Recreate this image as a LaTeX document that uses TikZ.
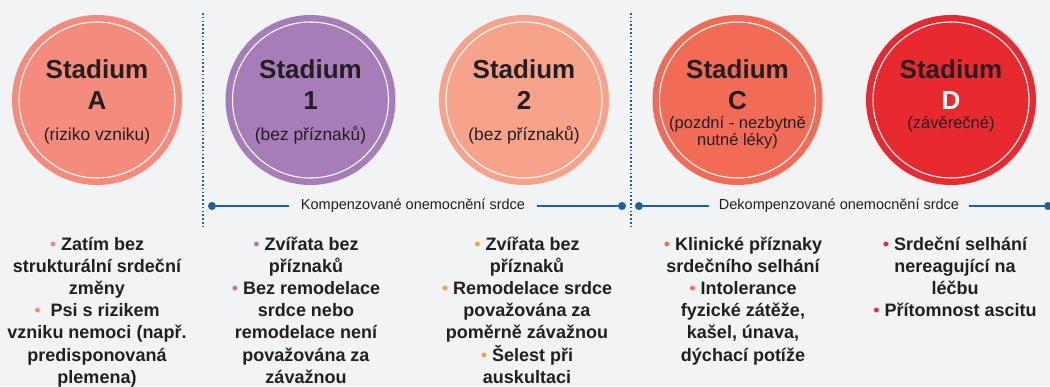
\documentclass[tikz,border=0pt]{standalone}
\usepackage{fontspec}
\setmainfont{Liberation Sans}
\usetikzlibrary{positioning}
\definecolor{bgGray}{HTML}{F2F3F5}
\colorlet{background}{bgGray}
\definecolor{ink}{HTML}{231F20}
\definecolor{penColor}{HTML}{1F5F9A}
\definecolor{fillA}{HTML}{F58B7D}
\definecolor{fill1}{HTML}{A67DB8}
\definecolor{fill2}{HTML}{F7A38C}
\definecolor{fillC}{HTML}{F26B57}
\definecolor{fillD}{HTML}{E8292F}
\definecolor{dot2}{HTML}{F7A046}
\newcommand\bul[1]{\textcolor{#1}{\textmd{\textbullet}}}
\tikzset{
  stage/.style={circle, minimum size=170pt, inner sep=0pt},
  ring/.style={white, line width=1.1pt},
  stagename/.style={anchor=base, inner sep=0pt, text=ink,
    font=\fontsize{26}{26}\selectfont\bfseries},
  stagenote/.style={anchor=base, inner sep=0pt, text=ink, align=center,
    font=\fontsize{16.5}{17}\selectfont},
  bignote/.style={stagenote, font=\fontsize{17.4}{18}\selectfont},
  items/.style={anchor=base, inner sep=0pt, text=ink, align=center,
    font=\fontsize{18}{22.2}\selectfont\bfseries},
  bigdot/.style={circle, fill=penColor, inner sep=0pt, minimum size=8pt},
  phase/.style={fill=background, text=ink, inner ysep=2pt,
    font=\fontsize{14.5}{15}\selectfont},
}

\begin{document}
\begin{tikzpicture}[x=1pt, y=-1pt]
    \fill[background] (0,0) rectangle (1050,386);
    \useasboundingbox (0,0) rectangle (1050,386);
      % stage circles
      \node[stage, fill=fillA] (stA) at (97,100) {};
      \node[stage, fill=fill1] (st1) at (310.5,100) {};
      \node[stage, fill=fill2] (st2) at (524,100) {};
      \node[stage, fill=fillC] (stC) at (737.5,100) {};
      \node[stage, fill=fillD] (stD) at (951,100) {};
      \draw[ring] (stA) circle (78pt);
      \draw[ring] (st1) circle (78pt);
      \draw[ring] (st2) circle (78pt);
      \draw[ring] (stC) circle (78pt);
      \draw[ring] (stD) circle (78pt);
      % stage titles (base = last line)
      \node[stagename] (nameA) at (97,78) {Stadium};
      \node[stagename] (letA) at (97,109) {A};
      \node[bignote] (noteA) at (97,140) {(riziko vzniku)};
      \node[stagename] (name1) at (310.5,78) {Stadium};
      \node[stagename] (let1) at (310.5,109) {1};
      \node[bignote] (note1) at (310.5,140) {(bez příznaků)};
      \node[stagename] (name2) at (524,78) {Stadium};
      \node[stagename] (let2) at (524,109) {2};
      \node[bignote] (note2) at (524,140) {(bez příznaků)};
      \node[stagename] (nameC) at (737.5,78) {Stadium};
      \node[stagename] (letC) at (737.5,109) {C};
      \node[stagenote] (noteC) at (737.5,145) {(pozdní - nezbytně\\nutné léky)};
      \node[stagename] (nameD) at (951,78) {Stadium};
      \node[stagename, text=white] (letD) at (951,109) {D};
      \node[stagenote] (noteD) at (951,128) {(závěrečné)};
      % dividers
      \coordinate (divAtop) at (203,13);
      \coordinate (divAbot) at (203,228);
      \coordinate (divBtop) at (631,13);
      \coordinate (divBbot) at (631,228);
      \draw[penColor, line width=1.6pt, dash pattern=on 1.6pt off 2.2pt] (divAtop) -- (divAbot);
      \draw[penColor, line width=1.6pt, dash pattern=on 1.6pt off 2.2pt] (divBtop) -- (divBbot);
      % phases
      \node[bigdot] (kompL) at (212,206) {};
      \node[bigdot] (kompR) at (622,206) {};
      \node[bigdot] (dekL) at (639,206) {};
      \node[bigdot] (dekR) at (1048,206) {};
      \draw[penColor, line width=1.8pt] (kompL) -- (kompR);
      \draw[penColor, line width=1.8pt] (dekL) -- (dekR);
      \node[phase, inner xsep=12pt] (komp) at (413,206) {Kompenzované onemocnění srdce};
      \node[phase, inner xsep=10pt] (dek) at (839,206) {Dekompenzované onemocnění srdce};
      % signs (y = baseline of last line)
      \node[items] (itemsA) at (97,383.2) {\bul{fillA} Zatím bez\\strukturální srdeční\\změny\\\bul{fillA}\ \ Psi s rizikem\\vzniku nemoci (např.\\predisponovaná\\plemena)};
      \node[items] (items1) at (306,383.2) {\bul{fill1} Zvířata bez\\příznaků\\\bul{fill1} Bez remodelace\\srdce nebo\\remodelace není\\považována za\\závažnou};
      \node[items] (items2) at (527,383.2) {\bul{dot2} Zvířata bez\\příznaků\\\bul{dot2} Remodelace srdce\\považována za\\poměrně závažnou\\\bul{dot2} Šelest při\\auskultaci};
      \node[items] (itemsC) at (743,361) {\bul{fillC} Klinické příznaky\\srdečního selhání\\\bul{fillC} Intolerance\\fyzické zátěže,\\kašel, únava,\\dýchací potíže};
      \node[items] (itemsD) at (955,316.6) {\bul{fillD} Srdeční selhání\\nereagující na\\léčbu\\\bul{fillD} Přítomnost ascitu};
    \end{tikzpicture}
\end{document}
